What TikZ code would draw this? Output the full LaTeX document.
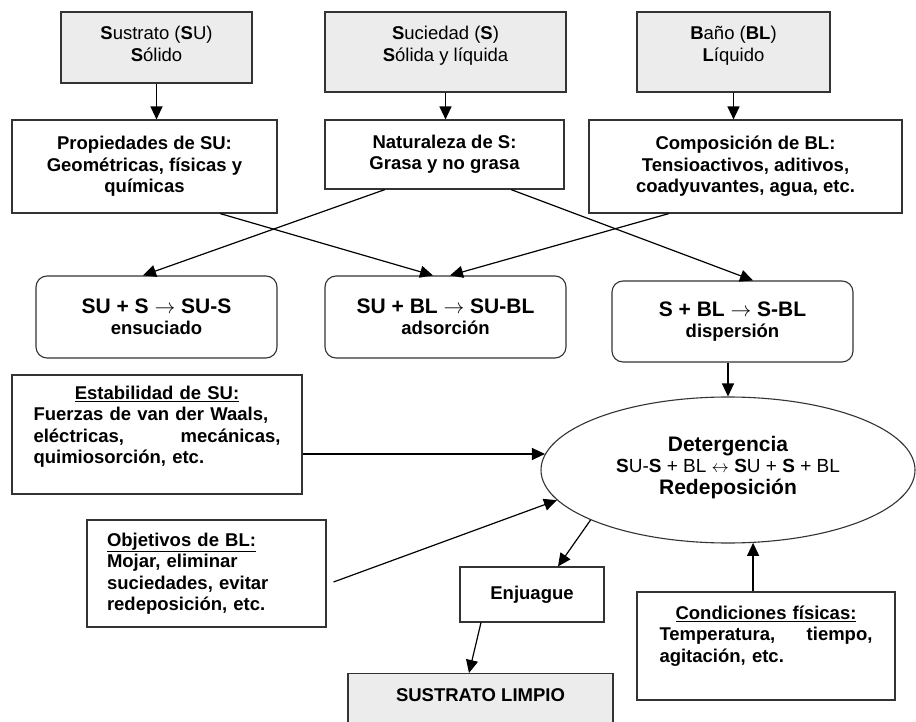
\documentclass[tikz,border=0pt]{standalone}
\usepackage{fontspec}
\setmainfont{Liberation Sans}
\usetikzlibrary{arrows.meta,shapes.geometric}
\definecolor{boxgray}{HTML}{ECECEC}
\definecolor{edge}{HTML}{333333}
\newcommand{\bigtxt}{\fontsize{21}{24}\selectfont}
\begin{document}
\begin{tikzpicture}[x=1pt,y=-1pt,
		box/.style={draw=edge,line width=1.1pt,inner sep=0pt,align=center,
			font=\bfseries\fontsize{18.5}{21.5}\selectfont},
		source/.style={box,fill=boxgray,font=\fontsize{18.5}{21.5}\selectfont},
		react/.style={box,rounded corners=11pt},
		note/.style={box,align=left},
		arr/.style={line width=1.2pt,-{Triangle[length=13pt,width=12pt]}}]
	\useasboundingbox[fill=white] (0,0) rectangle (916,722);
	% materias de partida
	\node[source,minimum width=191pt,minimum height=71pt,text depth=7pt] (su) at (156.5,47.5)
		{\textbf{S}ustrato (\textbf{S}U)\\\textbf{S}ólido};
	\node[source,minimum width=241pt,minimum height=80pt,text depth=16pt] (s) at (445.5,52)
		{\textbf{S}uciedad (\textbf{S})\\\textbf{S}ólida y líquida};
	\node[source,minimum width=193pt,minimum height=80pt,text depth=16pt] (bl) at (733.5,52)
		{\textbf{B}año (\textbf{BL})\\\textbf{L}íquido};
	
	\node[box,minimum width=265pt,minimum height=93pt] (propsu) at (144.5,166.5)
		{Propiedades de SU:\\Geométricas, físicas y\\químicas};
	\node[box,minimum width=239pt,minimum height=69pt] (nats) at (444.5,154.5)
		{Naturaleza de S:\\Grasa y no grasa};
	\node[box,minimum width=313pt,minimum height=93pt] (compbl) at (745.5,166.5)
		{Composición de BL:\\Tensioactivos, aditivos,\\coadyuvantes, agua, etc.};
	
	% interacciones
	\node[react,minimum width=241pt,minimum height=82pt] (sus) at (156.5,317)
		{{\bigtxt SU + S $\rightarrow$ SU-S}\\ensuciado};
	\node[react,minimum width=241pt,minimum height=82pt] (subl) at (445.5,317)
		{{\bigtxt SU + BL $\rightarrow$ SU-BL}\\adsorción};
	\node[react,minimum width=241pt,minimum height=81pt] (sbl) at (732.5,321.5)
		{{\bigtxt S + BL $\rightarrow$ S-BL}\\dispersión};
	
	\node[box,ellipse,minimum width=374pt,minimum height=146pt,text depth=10pt] (det) at (728,470)
		{{\bigtxt Detergencia}\\
		{\mdseries\fontsize{19}{24}\selectfont \textbf{S}U-\textbf{S} + BL $\leftrightarrow$ \textbf{S}U + \textbf{S} + BL}\\
		{\bigtxt Redeposición}};
	
	\node[note,text width=247pt,inner xsep=21.5pt,minimum height=119pt,text depth=83.5pt] (estab) at (157,434.5)
		{\hfill\underline{Estabilidad de SU:}\hfill\null\\Fuerzas de van der Waals,\\eléctricas,\hfill mecánicas,\\quimiosorción, etc.};
	\node[note,text width=199pt,inner xsep=20pt,minimum height=107pt] (objet) at (206.5,573.5)
		{\underline{Objetivos de BL:}\\Mojar, eliminar\\suciedades, evitar\\redeposición, etc.};
	\node[note,text width=213pt,inner xsep=22.5pt,minimum height=108pt,text depth=67pt] (cond) at (766,646)
		{\hfill\underline{Condiciones físicas:}\hfill\null\\Temperatura,\hfill tiempo,\\agitación, etc.};
	
	\node[box,minimum width=144pt,minimum height=55pt] (enj) at (532,594.5) {Enjuague};
	\node[box,fill=boxgray,anchor=north,minimum width=265pt,inner ysep=15pt,text depth=50pt] (limpio) at (480.5,673)
		{SUSTRATO LIMPIO};
	
	% flechas
	\draw[arr] (su.south) -- (su.south |- propsu.north);
	\draw[arr] (s.south) -- (s.south |- nats.north);
	\draw[arr] (bl.south) -- (bl.south |- compbl.north);
	\draw[arr] ([xshift=75.5pt]propsu.south) -- ([xshift=-12.5pt]subl.north);
	\draw[arr] ([xshift=-59.5pt]nats.south) -- ([xshift=-13.5pt]sus.north);
	\draw[arr] ([xshift=66.5pt]nats.south) -- ([xshift=20.5pt]sbl.north);
	\draw[arr] ([xshift=-76.5pt]compbl.south) -- ([xshift=4.5pt]subl.north);
	\draw[arr] (sbl.south -| det.north) -- (det.north);
	\draw[arr] (estab.east |- det.175.6) -- (det.175.6);
	\draw[arr] ([shift={(7pt,-8.5pt)}]objet.east) -- (det.190.3);
	\draw[arr] (det.200) -- ([xshift=26pt]enj.north);
	\draw[arr] ([xshift=-51pt]enj.south) -- ([xshift=-11.5pt]limpio.north);
	\draw[arr] (det.289 |- cond.north) -- (det.289);
\end{tikzpicture}
\end{document}
